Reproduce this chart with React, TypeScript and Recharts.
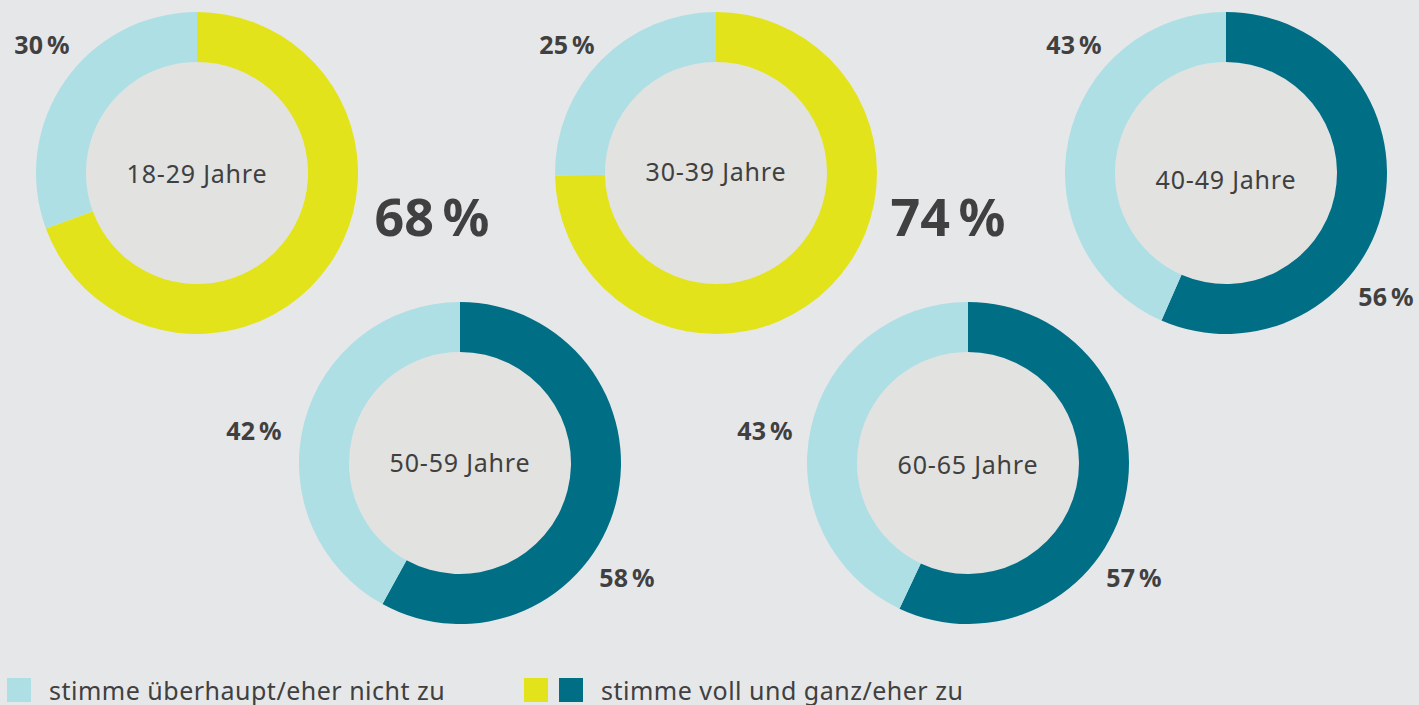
import { Cell, Pie, PieChart } from 'recharts'

const groups = ['18-29 Jahre', '30-39 Jahre', '40-49 Jahre', '50-59 Jahre', '60-65 Jahre']
const agree = [68, 74, 56, 58, 57]
const disagree = [30, 25, 43, 42, 43]
const legendLabels = ['stimme überhaupt/eher nicht zu', 'stimme voll und ganz/eher zu']

const W = 1419
const H = 705
const OUTER = 161
const INNER = 111

const C = {
  bg: '#e6e7e9',
  hole: '#e2e2e0',
  light: '#aedfe4',
  yellow: '#e2e31b',
  teal: '#006f86',
  text: '#404040',
}

// layout only: donut centres, label spots
const centers = [
  [197, 173],
  [716, 173],
  [1226, 173],
  [460, 463],
  [968, 463],
]
const centerTextY = [173, 171, 179, 462, 464]
const agreeColors = [C.yellow, C.yellow, C.teal, C.teal, C.teal]
const disagreePos = [
  [42, 44],
  [567, 44],
  [1074, 44],
  [254, 430],
  [765, 430],
]
const agreePos = [
  [432, 216],
  [948, 216],
  [1386, 296],
  [627, 577],
  [1134, 577],
]
const bigAgree = [true, true, false, false, false]

const FONT = '"Noto Sans", "Open Sans", sans-serif'

function pct(v: number) {
  return `${v}\u202F%`
}

function Label({ x, y, children, size, bold }: { x: number; y: number; children: string; size: number; bold?: boolean }) {
  return (
    <div
      style={{
        position: 'absolute',
        left: x,
        top: y,
        transform: 'translate(-50%, -50%)',
        whiteSpace: 'nowrap',
        fontFamily: FONT,
        fontSize: size,
        fontWeight: bold ? 700 : 400,
        color: C.text,
        lineHeight: 1,
        letterSpacing: bold ? 0 : 0.8,
      }}
    >
      {children}
    </div>
  )
}

const legendText = {
  position: 'absolute' as const,
  top: 690,
  transform: 'translateY(-50%)',
  fontFamily: FONT,
  fontSize: 25,
  color: C.text,
  lineHeight: 1,
  whiteSpace: 'nowrap' as const,
  letterSpacing: 0.5,
}

export default function App() {
  return (
    <div style={{ position: 'fixed', left: 0, top: 0, width: W, height: H, background: C.bg, overflow: 'hidden' }}>
      <PieChart width={W} height={H} margin={{ top: 0, right: 0, bottom: 0, left: 0 }}>
        {groups.map((g, i) => (
          <Pie
            key={`hole-${g}`}
            data={[{ name: g, value: 1 }]}
            dataKey="value"
            cx={centers[i][0]}
            cy={centers[i][1]}
            outerRadius={INNER}
            innerRadius={0}
            stroke="none"
            fill={C.hole}
            isAnimationActive={false}
          />
        ))}
        {groups.map((g, i) => (
          <Pie
            key={g}
            data={[
              { name: legendLabels[1], value: agree[i] },
              { name: legendLabels[0], value: disagree[i] },
            ]}
            dataKey="value"
            cx={centers[i][0]}
            cy={centers[i][1]}
            outerRadius={OUTER}
            innerRadius={INNER}
            startAngle={90}
            endAngle={-270}
            stroke="none"
            isAnimationActive={false}
          >
            <Cell fill={agreeColors[i]} />
            <Cell fill={C.light} />
          </Pie>
        ))}
      </PieChart>

      {groups.map((g, i) => (
        <Label key={`c-${g}`} x={centers[i][0]} y={centerTextY[i]} size={25}>
          {g}
        </Label>
      ))}
      {groups.map((g, i) => (
        <Label key={`d-${g}`} x={disagreePos[i][0]} y={disagreePos[i][1]} size={25} bold>
          {pct(disagree[i])}
        </Label>
      ))}
      {groups.map((g, i) => (
        <Label key={`a-${g}`} x={agreePos[i][0]} y={agreePos[i][1]} size={bigAgree[i] ? 52 : 25} bold>
          {pct(agree[i])}
        </Label>
      ))}

      <div style={{ position: 'absolute', left: 7, top: 678, width: 24, height: 24, background: C.light }} />
      <div style={{ ...legendText, left: 49 }}>{legendLabels[0]}</div>
      <div style={{ position: 'absolute', left: 524, top: 678, width: 24, height: 24, background: C.yellow }} />
      <div style={{ position: 'absolute', left: 559, top: 678, width: 24, height: 24, background: C.teal }} />
      <div style={{ ...legendText, left: 601 }}>{legendLabels[1]}</div>
    </div>
  )
}
